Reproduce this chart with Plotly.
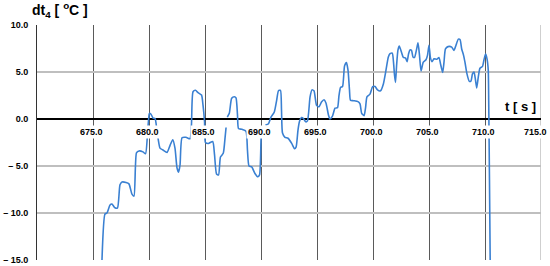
import plotly.graph_objects as go

# dt4 trace (t in s, dt4 in degC); None = break in the line
t_s = [675.75, 676.07, 676.25, 676.52, 676.70, 676.96, 677.19, 677.41, 677.59, 677.95,
       678.21, 678.48, 678.66, 678.88, 679.11, 679.46, 679.69, 679.87, 679.96, 680.03,
       680.18, 680.36, 680.54, 680.71, 680.98, 681.25, 681.61, 681.88, 682.12, 682.32,
       682.50, 682.63, 682.77, 682.95, 683.30, 683.66, 683.79, 683.93, 684.15, 684.38,
       684.69, 684.82, 684.96, 685.04, 685.31, 685.69, 685.85, 686.03, 686.21, 686.38,
       686.63, 686.79, 686.88, None, 686.99, 687.17, 687.38, 687.63, 687.77, 687.90,
       687.99, 688.30, 688.66, 688.79, 688.93, 689.17, 689.46, 689.71, 689.87, 690.00,
       690.06, None, 690.40, 690.67, 690.89, 691.19, 691.40, 691.56, 691.74, 691.83,
       691.92, 692.14, 692.41, 692.74, 692.99, 693.13, 693.30, 693.44, 693.62, 693.79,
       693.99, 694.15, 694.38, 694.55, 694.73, 694.96, 695.18, 695.40, 695.63, 695.80,
       696.03, 696.16, 696.38, 696.61, 696.83, 696.96, 697.10, 697.28, 697.46, 697.63,
       697.77, 697.90, 697.99, 698.26, 698.66, 698.84, 698.99, 699.20, 699.33, 699.46,
       699.73, 699.97, 700.18, 700.40, 700.67, 700.92, 701.16, 701.37, 701.52, 701.72,
       701.83, 701.92, 702.01, 702.11, 702.23, 702.35, 702.53, 702.71, 702.90, 703.04,
       703.17, 703.30, 703.44, 703.57, 703.71, 703.88, 704.02, 704.15, 704.29, 704.49,
       704.73, 704.87, 705.00, 705.13, 705.27, 705.45, 705.71, 705.89, 706.03, 706.22,
       706.34, 706.47, 706.70, 707.03, 707.23, 707.41, 707.62, 707.77, 707.92, 708.08,
       708.21, 708.39, 708.60, 708.75, 708.88, 709.02, 709.15, 709.26, 709.40, 709.55,
       709.78, 709.91, 710.05, 710.18, 710.29, 710.33, 710.40, 710.47]
dt4 = [-17.0, -10.1, -10.0, -9.15, -9.05, -9.45, -9.45, -7.0, -6.7, -6.75,
       -6.9, -8.0, -8.2, -3.6, -3.4, -3.5, -3.7, -1.5, -0.1, 0.6,
       0.5, 0.1, 0.05, -1.2, -3.1, -3.3, -3.55, -2.8, -2.2, -3.1,
       -5.2, -5.65, -4.9, -2.0, -1.95, -2.1, -0.65, 2.9, 3.05, 2.8,
       2.55, 1.5, -0.3, -2.5, -2.6, -2.4, -3.8, -5.85, -5.95, -4.05,
       -3.65, -2.0, -0.9, None, 0.2, 0.6, 2.2, 2.37, 2.25, 0.45,
       -1.0, -1.1, -1.3, -3.3, -5.0, -5.1, -5.8, -6.15, -5.95, -2.25,
       -0.75, None, -0.65, -0.5, 0.2, 0.75, 2.0, 3.0, 3.05, 0.95,
       -1.5, -1.95, -2.05, -2.6, -3.15, -3.0, -1.2, -0.25, 0.15, 0.05,
       -0.3, -0.2, 2.35, 3.1, 3.0, 1.45, 1.3, 1.8, 2.05, 1.7,
       0.4, 0.0, 0.3, 1.15, 1.2, 2.45, 3.35, 3.45, 5.65, 6.0,
       5.2, 3.1, 2.0, 1.95, 1.85, 1.6, 0.6, 0.35, 1.15, 2.35,
       2.65, 3.45, 3.45, 3.1, 3.0, 3.7, 5.2, 6.6, 6.95, 7.0,
       6.05, 4.7, 3.9, 5.75, 7.35, 7.75, 7.15, 6.55, 6.5, 6.1,
       6.9, 7.35, 7.3, 6.6, 6.55, 7.35, 8.1, 6.8, 5.1, 6.05,
       6.3, 6.8, 7.85, 6.5, 6.1, 6.4, 6.35, 6.55, 5.85, 4.95,
       6.05, 7.45, 7.7, 7.65, 7.3, 7.85, 8.5, 8.45, 7.45, 6.8,
       6.05, 4.8, 4.0, 4.05, 4.8, 5.0, 4.15, 3.3, 4.45, 5.4,
       5.6, 6.3, 6.9, 6.4, 5.2, 2.0, -6.5, -16.0]

x_ticks = [675, 680, 685, 690, 695, 700, 705, 710, 715]
x_tick_text = ["675.0", "680.0", "685.0", "690.0", "695.0", "700.0", "705.0", "710.0", "715.0"]
y_ticks = [-15, -10, -5, 0, 5, 10]
y_tick_text = ["\u2013 15.0", "\u2013 10.0", "\u2013 5.0", "0.0", "5.0", "10.0"]

FONT = "Liberation Sans"

fig = go.Figure()
fig.add_trace(go.Scatter(
    x=t_s, y=dt4,
    mode="lines",
    line=dict(color="#3a80d2", width=1.6, shape="spline", smoothing=0.55),
    connectgaps=False,
    hoverinfo="skip",
))

# x labels sit on the zero line with a white box, like the original
annotations = []
for tv, tt in zip(x_ticks, x_tick_text):
    annotations.append(dict(
        x=tv, y=0, xref="x", yref="y",
        text="<b>%s</b>" % tt, showarrow=False,
        yanchor="top", yshift=-6, xshift=-6 if tv == 715 else -2,
        bgcolor="white", borderpad=1,
        font=dict(family=FONT, size=9, color="black"),
    ))

annotations.append(dict(
    x=-0.014, y=1, xref="paper", yref="paper",
    xanchor="left", yanchor="bottom", yshift=3,
    text="<b>dt<sub>4</sub> [ <sup>o</sup>C ]</b>", showarrow=False,
    font=dict(family=FONT, size=14, color="black"),
))
annotations.append(dict(
    x=713.2, y=1.3, xref="x", yref="y",
    text="<b>t [ s ]</b>", showarrow=False,
    font=dict(family=FONT, size=13, color="black"),
))

fig.update_layout(
    width=550, height=266,
    margin=dict(l=37, r=9, t=25, b=6),
    paper_bgcolor="white", plot_bgcolor="white",
    showlegend=False,
    annotations=annotations,
    shapes=[dict(type="line", xref="x", yref="paper", x0=715, x1=715, y0=0, y1=1,
                 line=dict(color="#bfbfbf", width=1.5), layer="below")],
    xaxis=dict(
        range=[670, 715],
        tickvals=x_ticks[:-1],
        showticklabels=False,
        showgrid=True, gridcolor="#5a5a5a", gridwidth=1,
        zeroline=False, showline=False, ticks="",
        automargin=False,
    ),
    yaxis=dict(
        range=[-15, 10],
        tickvals=y_ticks, ticktext=y_tick_text,
        tickfont=dict(family=FONT, size=9, color="black", weight="bold"),
        showgrid=True, gridcolor="#bfbfbf", gridwidth=1.5,
        zeroline=True, zerolinecolor="black", zerolinewidth=2,
        showline=True, linecolor="#333333", linewidth=1,
        ticks="", ticklabelstandoff=6,
        automargin=False,
    ),
)

# drop the browser's default body margin so the 550x266 figure fills the window
fig.write_html("out.html", config={"displayModeBar": False},
               post_script="document.body.style.margin='0';")
